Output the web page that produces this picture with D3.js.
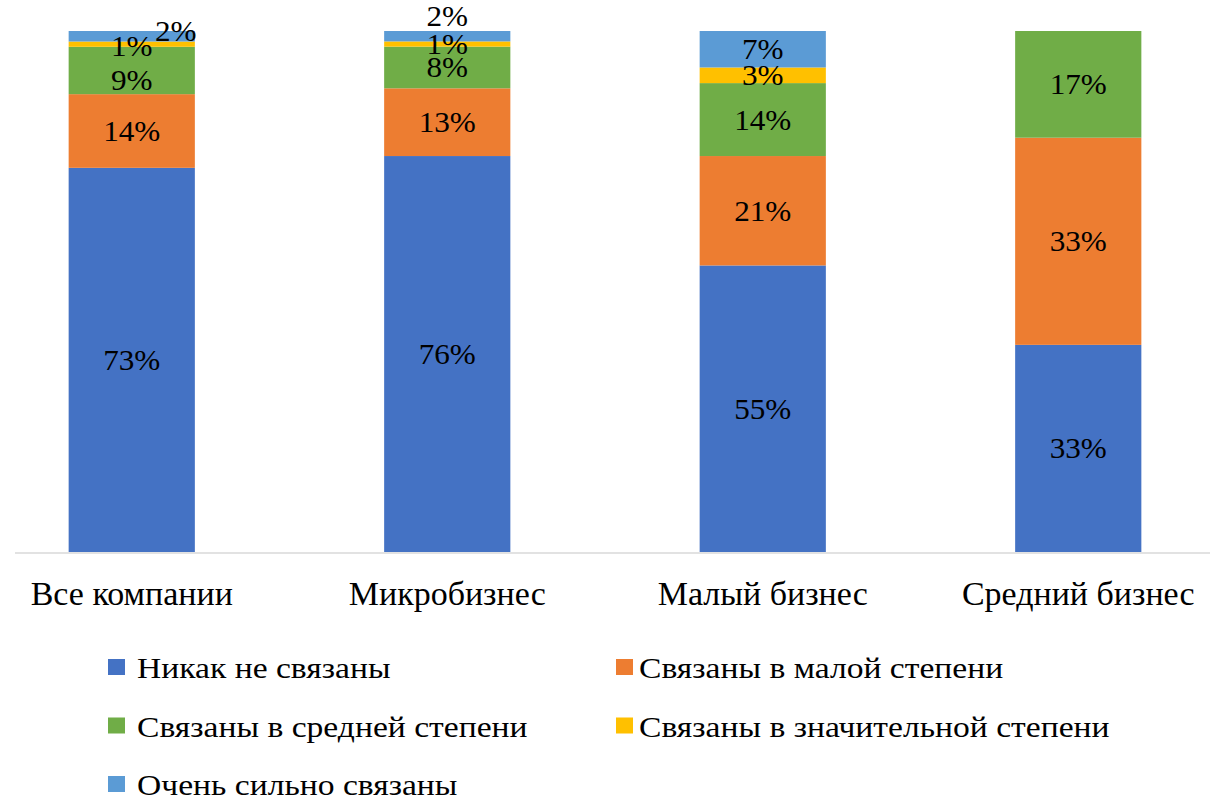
<!DOCTYPE html>
<html lang="ru">
<head>
<meta charset="UTF-8">
<title>Stacked chart</title>
<script src="https://d3js.org/d3.v7.min.js"></script>
<style>
  body { margin: 0; background: #fff; }
  text { font-family: "Liberation Serif", "Times New Roman", serif; fill: #000; }
</style>
</head>
<body>
<svg id="chart" width="1220" height="800"></svg>
<script>
// categories and series
var categories = ["Все компании", "Микробизнес", "Малый бизнес", "Средний бизнес"];
var seriesNames = ["Никак не связаны", "Связаны в малой степени", "Связаны в средней степени",
                   "Связаны в значительной степени", "Очень сильно связаны"];
var colors = ["#4472C4", "#ED7D31", "#70AD47", "#FFC000", "#5B9BD5"];

// values per series, one value per category (percent)
var notLinked    = [73, 76, 55, 33];
var lowLinked    = [14, 13, 21, 33];
var mediumLinked = [9, 8, 14, 17];
var highLinked   = [1, 1, 3, 0];
var veryLinked   = [2, 2, 7, 0];

var seriesValues = [notLinked, lowLinked, mediumLinked, highLinked, veryLinked];

// label nudges where Excel moved a label off its segment ("cat-series": [dx, dy])
var labelShift = { "0-4": [44, -5], "0-3": [0, 2], "0-2": [0, 10], "1-4": [0, -20] };

var svg = d3.select("#chart");

// build rows, normalise to 100% per category
var rows = categories.map(function(c, i) {
    var row = { cat: c };
    var total = 0;
    seriesNames.forEach(function(s, j) { row[s] = seriesValues[j][i]; total += seriesValues[j][i]; });
    row.total = total;
    return row;
});

var stack = d3.stack().keys(seriesNames)
    .value(function(d, key) { return d[key] / d.total; });
var layers = stack(rows);

var x = d3.scaleBand()
    .domain(categories)
    .range([-26, 1236])
    .paddingInner(0.6)
    .paddingOuter(0.3);

var y = d3.scaleLinear()
    .domain([0, 1])
    .range([552, 31]);

// helper: text stretched a little wider, like the original
function stretched(sel, sx) {
    return sel.attr("transform", function() {
        var t = d3.select(this);
        return "translate(" + t.attr("data-x") + "," + t.attr("data-y") + ") scale(" + sx + ",1)";
    });
}

// bars
var layerG = svg.selectAll("g.layer")
    .data(layers)
    .enter().append("g")
    .attr("class", "layer")
    .attr("fill", function(d, i) { return colors[i]; });

layerG.selectAll("rect")
    .data(function(d) { return d; })
    .enter().append("rect")
    .attr("x", function(d) { return x(d.data.cat); })
    .attr("width", x.bandwidth())
    .attr("y", function(d) { return y(d[1]); })
    .attr("height", function(d) { return y(d[0]) - y(d[1]); });

// axis line
svg.append("line")
    .attr("x1", 15).attr("x2", 1210)
    .attr("y1", y(0) + 1).attr("y2", y(0) + 1)
    .attr("stroke", "#d9d9d9")
    .attr("stroke-width", 1.5);

// data labels
layers.forEach(function(layer, si) {
    layer.forEach(function(d, ci) {
        var v = seriesValues[si][ci];
        if (!v) return;
        var sh = labelShift[ci + "-" + si] || [0, 0];
        var t = svg.append("text")
            .attr("data-x", x(d.data.cat) + x.bandwidth() / 2 + sh[0])
            .attr("data-y", (y(d[0]) + y(d[1])) / 2 + sh[1] + 10)
            .attr("text-anchor", "middle")
            .attr("font-size", 30)
            .text(v + "%");
        stretched(t, 1.04);
    });
});

// category labels
var catText = svg.selectAll("text.cat")
    .data(categories)
    .enter().append("text")
    .attr("class", "cat")
    .attr("data-x", function(d) { return x(d) + x.bandwidth() / 2; })
    .attr("data-y", 605)
    .attr("text-anchor", "middle")
    .attr("font-size", 33)
    .text(function(d) { return d; });
stretched(catText, 1.03);

// legend
var legend = svg.selectAll("g.leg")
    .data(seriesNames)
    .enter().append("g")
    .attr("class", "leg")
    .attr("transform", function(d, i) {
        return "translate(" + (i % 2 === 0 ? 108 : 616) + "," + (678 + Math.floor(i / 2) * 58.5) + ")";
    });

legend.append("rect")
    .attr("y", -19)
    .attr("width", 17).attr("height", 16)
    .attr("fill", function(d, i) { return colors[i]; });

legend.append("text")
    .attr("transform", function(d, i) { return "translate(" + (i % 2 === 0 ? 29 : 23) + ",0) scale(1.12,1)"; })
    .attr("font-size", 30)
    .text(function(d) { return d; });
</script>
</body>
</html>
